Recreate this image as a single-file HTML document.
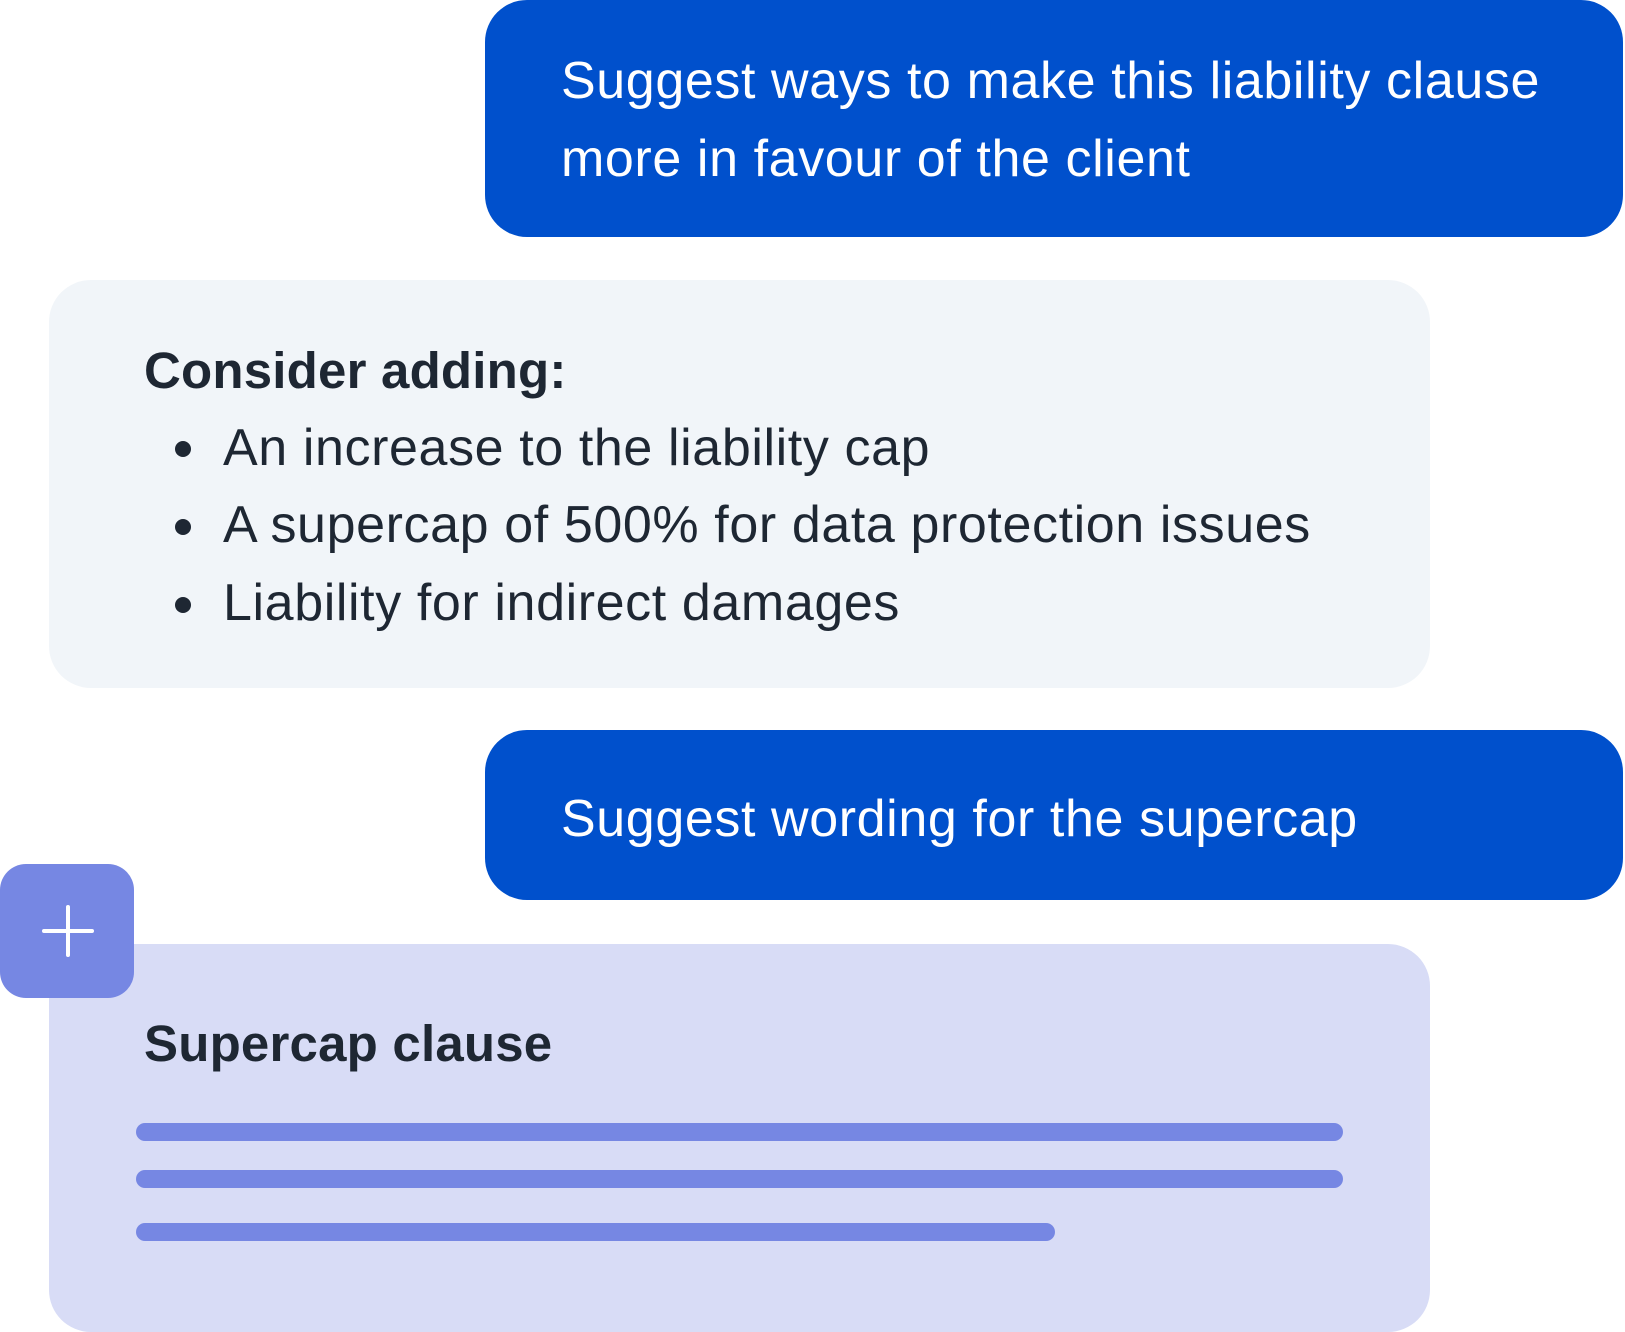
<!DOCTYPE html>
<html><head><style>
html,body{margin:0;padding:0;background:#fff;}
body{width:1625px;height:1332px;position:relative;overflow:hidden;font-family:"Liberation Sans",sans-serif;}
.b{position:absolute;}
.blue{background:#0050cc;border-radius:42px;color:#fff;}
.t{position:absolute;white-space:nowrap;font-size:52px;letter-spacing:0.6px;line-height:1;}
.bold{font-size:51px;letter-spacing:0.2px;font-weight:bold;}
.dark{color:#1e2733;}
.bar{position:absolute;background:#7687e3;height:18px;border-radius:9px;left:136px;}
.dot{position:absolute;width:16px;height:16px;border-radius:50%;background:#1e2733;left:175px;}
</style></head><body>
<div class="b blue" style="left:485px;top:0;width:1138px;height:237px;"></div>
<div class="t" style="left:561px;top:55px;color:#fff;">Suggest ways to make this liability clause</div>
<div class="t" style="left:561px;top:133px;color:#fff;">more in favour of the client</div>

<div class="b" style="left:49px;top:280px;width:1381px;height:408px;background:#f1f5f9;border-radius:42px;"></div>
<div class="t dark bold" style="left:144px;top:345px;">Consider adding:</div>
<div class="dot" style="top:441px;"></div>
<div class="t dark" style="left:223px;top:422px;">An increase to the liability cap</div>
<div class="dot" style="top:519px;"></div>
<div class="t dark" style="left:223px;top:499px;">A supercap of 500% for data protection issues</div>
<div class="dot" style="top:597px;"></div>
<div class="t dark" style="left:223px;top:577px;">Liability for indirect damages</div>

<div class="b blue" style="left:485px;top:730px;width:1138px;height:170px;"></div>
<div class="t" style="left:561px;top:793px;color:#fff;">Suggest wording for the supercap</div>

<div class="b" style="left:49px;top:944px;width:1381px;height:388px;background:#d8dcf6;border-radius:42px;"></div>
<div class="b" style="left:0;top:864px;width:134px;height:134px;background:#7687e3;border-radius:26px;"></div>
<div class="b" style="left:42px;top:929px;width:52px;height:4px;background:#fff;border-radius:2px;"></div>
<div class="b" style="left:66px;top:905px;width:4px;height:52px;background:#fff;border-radius:2px;"></div>
<div class="t dark bold" style="left:144px;top:1018px;">Supercap clause</div>
<div class="bar" style="top:1123px;width:1207px;"></div>
<div class="bar" style="top:1170px;width:1207px;"></div>
<div class="bar" style="top:1223px;width:919px;"></div>
</body></html>
